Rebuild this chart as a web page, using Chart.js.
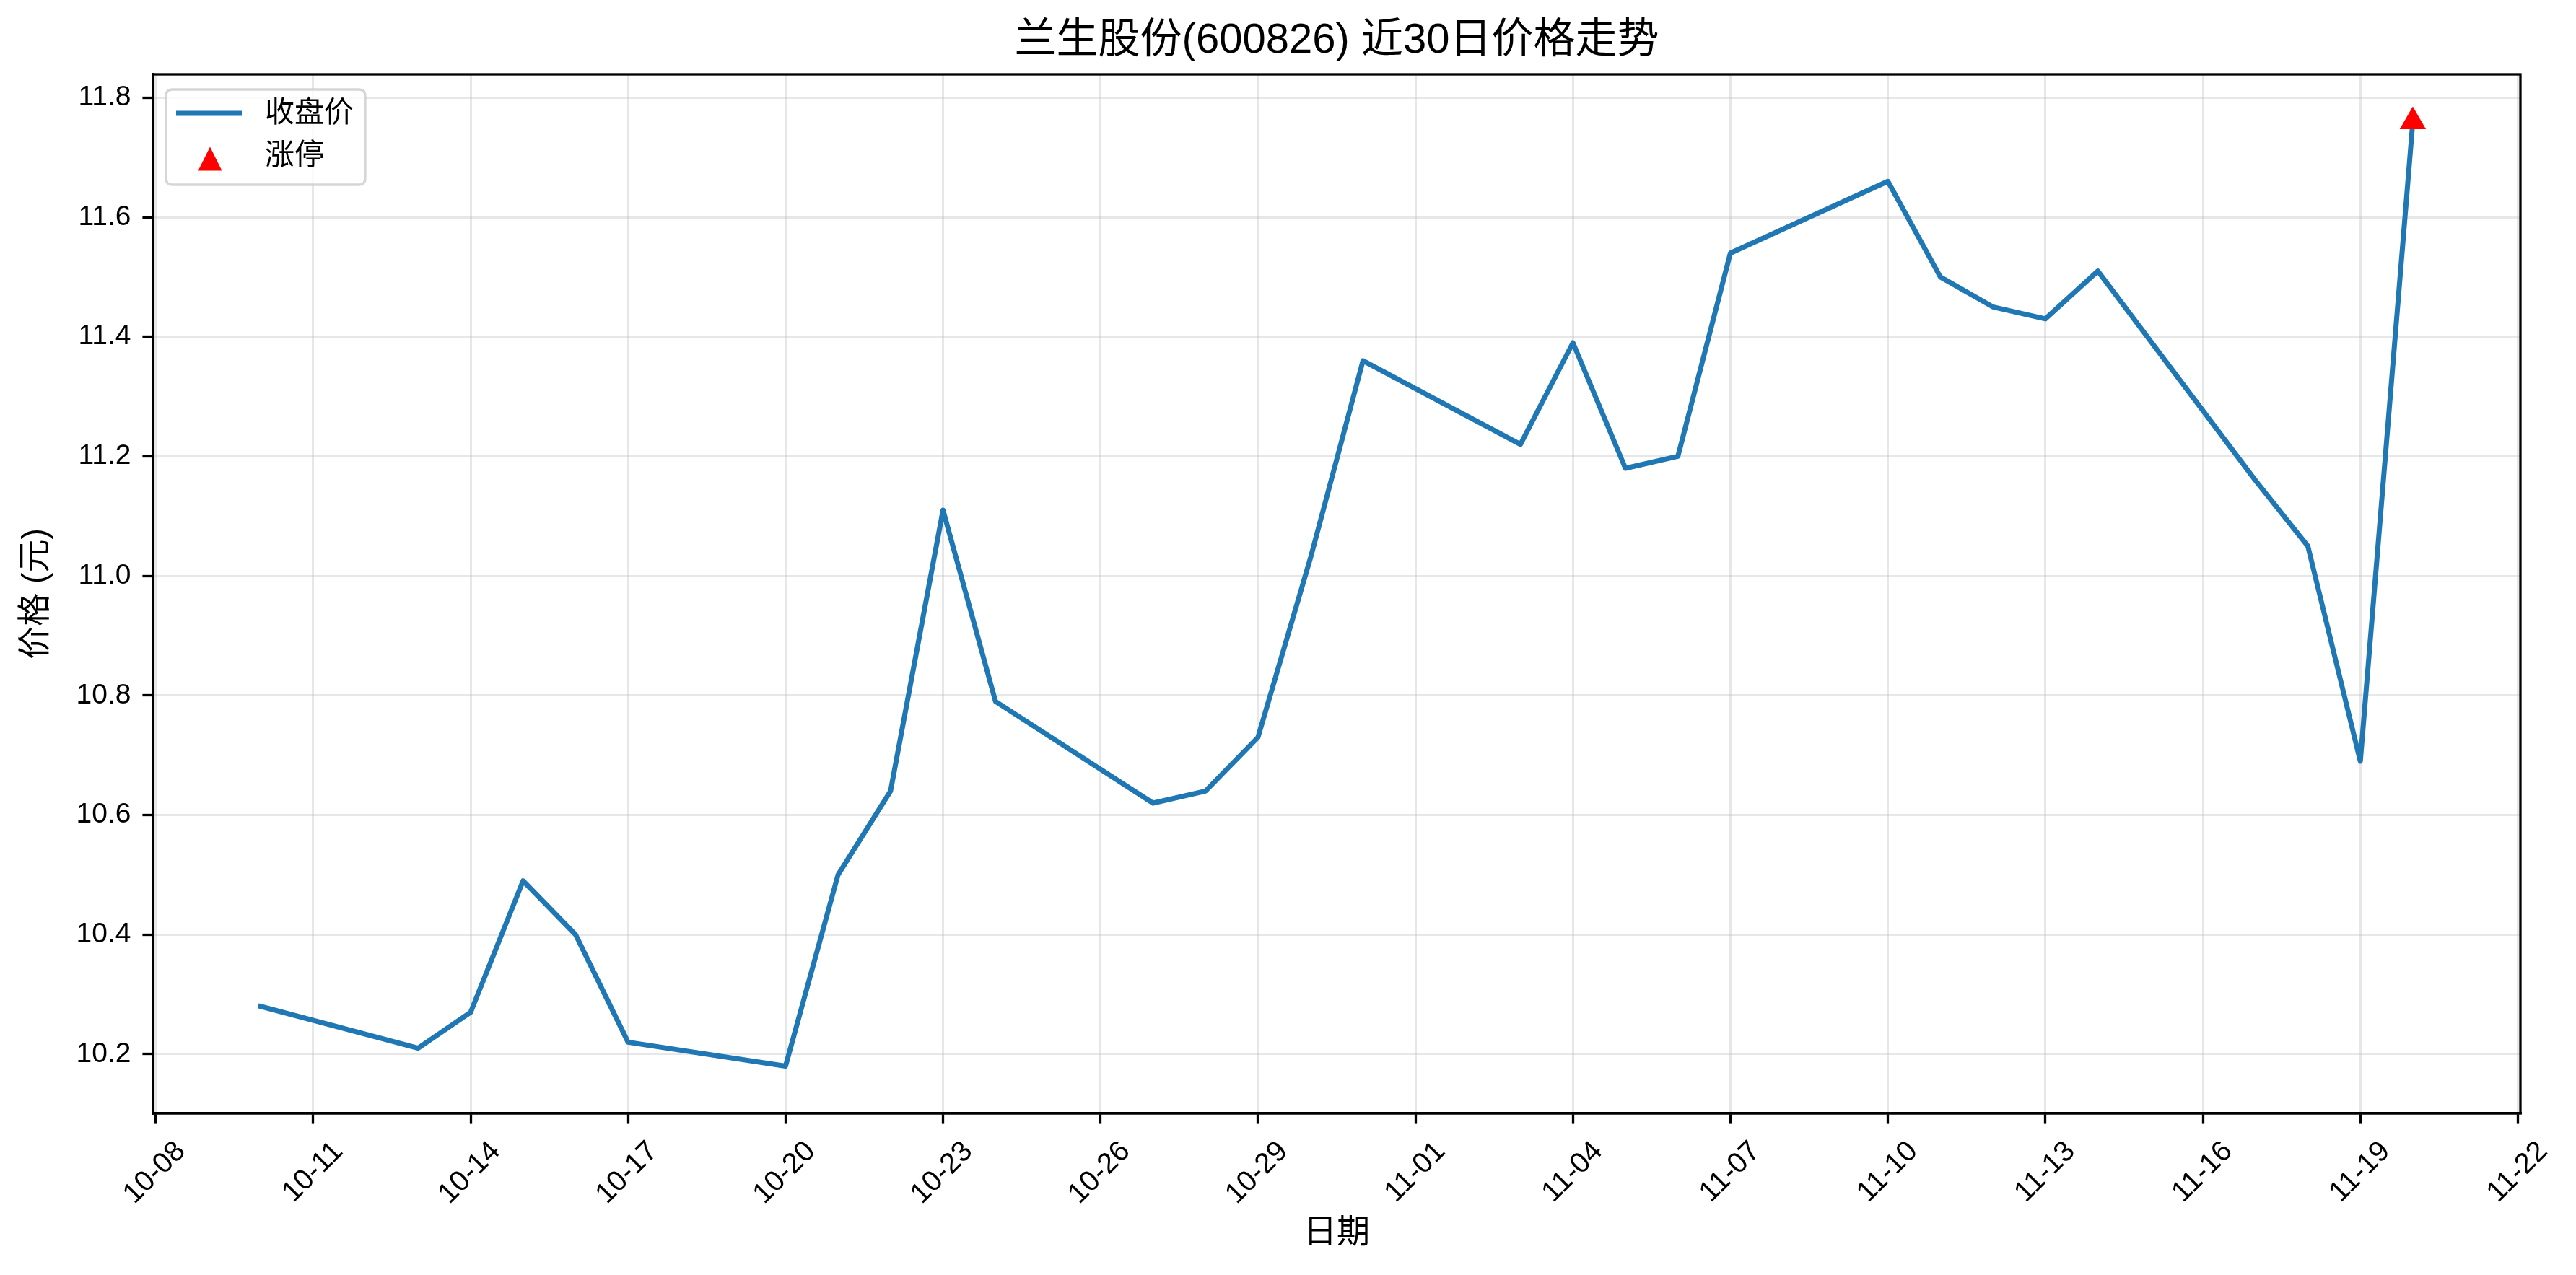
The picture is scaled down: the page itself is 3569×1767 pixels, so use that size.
<!DOCTYPE html>
<html>
<head>
<meta charset="utf-8">
<script src="https://cdn.jsdelivr.net/npm/chart.js@4/dist/chart.umd.min.js"></script>
<style>
  html, body { margin: 0; padding: 0; background: #fff; }
  #wrap { width: 3569px; height: 1767px; }
</style>
</head>
<body>
<div id="wrap"><canvas id="c" width="3569" height="1767"></canvas></div>
<script>
// ---- data ----
const YEAR = 2025;
const chartTitle = '兰生股份(600826) 近30日价格走势';
const xAxisTitle = '日期';
const yAxisTitle = '价格 (元)';
const closeLabel = '收盘价';
const limitLabel = '涨停';

const dates = ['10-10','10-13','10-14','10-15','10-16','10-17','10-20','10-21','10-22','10-23',
               '10-24','10-27','10-28','10-29','10-30','10-31','11-03','11-04','11-05','11-06',
               '11-07','11-10','11-11','11-12','11-13','11-14','11-17','11-18','11-19','11-20'];
const closes = [10.28,10.21,10.27,10.49,10.40,10.22,10.18,10.50,10.64,11.11,
                10.79,10.62,10.64,10.73,11.03,11.36,11.22,11.39,11.18,11.20,
                11.54,11.66,11.50,11.45,11.43,11.51,11.16,11.05,10.69,11.76];
const limitUpDates = ['11-20'];
const limitUpPrices = [11.76];

const xTickLabels = ['10-08','10-11','10-14','10-17','10-20','10-23','10-26','10-29',
                     '11-01','11-04','11-07','11-10','11-13','11-16','11-19','11-22'];
const yTickLabels = ['10.2','10.4','10.6','10.8','11.0','11.2','11.4','11.6','11.8'];

// ---- helpers ----
const BASE = Date.UTC(YEAR, 9, 8);
function dayNum(md) {
  const [m, d] = md.split('-').map(Number);
  return (Date.UTC(YEAR, m - 1, d) - BASE) / 86400000;
}
function fmtDay(v) {
  const dt = new Date(BASE + Math.round(v) * 86400000);
  const m = String(dt.getUTCMonth() + 1).padStart(2, '0');
  const d = String(dt.getUTCDate()).padStart(2, '0');
  return m + '-' + d;
}

const closePts = dates.map((d, i) => ({ x: dayNum(d), y: closes[i] }));
const limitPts = limitUpDates.map((d, i) => ({ x: dayNum(d), y: limitUpPrices[i] }));

const xs = closePts.map(p => p.x);
const ys = closePts.map(p => p.y).concat(limitUpPrices);
const xMinD = Math.min(...xs), xMaxD = Math.max(...xs);
const yMinD = Math.min(...ys), yMaxD = Math.max(...ys);
const xPad = (xMaxD - xMinD) * 0.05, yPad = (yMaxD - yMinD) * 0.05;

const FONT = '"Liberation Sans", Arial, "Noto Sans CJK SC", sans-serif';
const LINE_COLOR = '#1f77b4';
const SPINE_W = 3.3;

// ---- plugins ----
const frame = {
  id: 'frame',
  afterDatasetsDraw(chart) {
    const { ctx, chartArea: a } = chart;
    ctx.save();
    ctx.strokeStyle = '#000';
    ctx.lineWidth = SPINE_W;
    ctx.strokeRect(a.left, a.top, a.right - a.left, a.bottom - a.top);
    ctx.restore();
  }
};

function triPath(ctx, cx, cy, half) {
  ctx.beginPath();
  ctx.moveTo(cx, cy - half);
  ctx.lineTo(cx + half, cy + half);
  ctx.lineTo(cx - half, cy + half);
  ctx.closePath();
}

const mplLegend = {
  id: 'mplLegend',
  afterDraw(chart) {
    const { ctx, chartArea: a } = chart;
    const ds = chart.data.datasets;
    const x0 = a.left + 18, y0 = a.top + 21, w = 276, h = 132, r = 9;
    ctx.save();
    ctx.beginPath();
    ctx.moveTo(x0 + r, y0);
    ctx.lineTo(x0 + w - r, y0);
    ctx.quadraticCurveTo(x0 + w, y0, x0 + w, y0 + r);
    ctx.lineTo(x0 + w, y0 + h - r);
    ctx.quadraticCurveTo(x0 + w, y0 + h, x0 + w - r, y0 + h);
    ctx.lineTo(x0 + r, y0 + h);
    ctx.quadraticCurveTo(x0, y0 + h, x0, y0 + h - r);
    ctx.lineTo(x0, y0 + r);
    ctx.quadraticCurveTo(x0, y0, x0 + r, y0);
    ctx.closePath();
    ctx.fillStyle = 'rgba(255,255,255,0.8)';
    ctx.fill();
    ctx.strokeStyle = 'rgba(204,204,204,0.8)';
    ctx.lineWidth = 3.3;
    ctx.stroke();

    const rowY1 = y0 + 33, rowY2 = y0 + 96;
    ctx.strokeStyle = ds[0].borderColor;
    ctx.lineWidth = ds[0].borderWidth;
    ctx.lineCap = 'butt';
    ctx.beginPath();
    ctx.moveTo(x0 + 14, rowY1);
    ctx.lineTo(x0 + 105, rowY1);
    ctx.stroke();
    ctx.fillStyle = ds[1].backgroundColor;
    triPath(ctx, x0 + 61, rowY2, 16.5);
    ctx.fill();

    ctx.fillStyle = '#000';
    ctx.font = '41px ' + FONT;
    ctx.textAlign = 'left';
    ctx.textBaseline = 'middle';
    ctx.fillText(ds[0].label, x0 + 137, rowY1 + 1);
    ctx.fillText(ds[1].label, x0 + 137, rowY2 - 3);
    ctx.restore();
  }
};

Chart.defaults.color = '#000';
Chart.defaults.font.family = FONT;

new Chart(document.getElementById('c'), {
  type: 'line',
  data: {
    datasets: [
      {
        label: closeLabel,
        data: closePts,
        borderColor: LINE_COLOR,
        backgroundColor: LINE_COLOR,
        borderWidth: 7,
        pointRadius: 0,
        tension: 0,
        borderJoinStyle: 'round',
        borderCapStyle: 'square',
        fill: false,
        order: 1
      },
      {
        label: limitLabel,
        type: 'scatter',
        data: limitPts,
        pointStyle: 'triangle',
        pointRadius: 21,
        backgroundColor: '#ff0000',
        borderColor: '#ff0000',
        borderWidth: 0,
        showLine: false,
        order: 0
      }
    ]
  },
  options: {
    responsive: false,
    devicePixelRatio: 1,
    animation: false,
    layout: { padding: { left: 0, right: 77, top: 0, bottom: 0 } },
    plugins: {
      legend: { display: false },
      tooltip: { enabled: false },
      title: {
        display: true,
        fullSize: false,
        text: chartTitle,
        color: '#000',
        font: { family: FONT, size: 58, weight: 'normal', lineHeight: 1.2 },
        padding: { top: 22, bottom: 11.4 }
      }
    },
    scales: {
      x: {
        type: 'linear',
        min: xMinD - xPad,
        max: xMaxD + xPad,
        afterBuildTicks(scale) {
          scale.ticks = xTickLabels.map(l => ({ value: dayNum(l) }));
        },
        afterFit(scale) { scale.height = 224; },
        ticks: {
          autoSkip: false,
          minRotation: 45,
          maxRotation: 45,
          padding: 15,
          labelOffset: 35,
          font: { size: 40 },
          color: '#000',
          callback: v => fmtDay(v)
        },
        grid: {
          color: 'rgba(176,176,176,0.3)',
          lineWidth: 3,
          drawTicks: true,
          tickLength: 14.6,
          tickColor: '#000',
          tickWidth: SPINE_W
        },
        border: { display: true, color: '#000', width: SPINE_W },
        title: {
          display: true,
          text: xAxisTitle,
          color: '#000',
          font: { size: 46, lineHeight: 1.2 },
          padding: { top: 0, bottom: 30 }
        }
      },
      y: {
        type: 'linear',
        min: yMinD - yPad,
        max: yMaxD + yPad,
        afterBuildTicks(scale) {
          scale.ticks = yTickLabels.map(l => ({ value: parseFloat(l) }));
        },
        afterFit(scale) { scale.width = 212; },
        ticks: {
          padding: 16,
          font: { size: 39 },
          color: '#000',
          callback: v => v.toFixed(1)
        },
        grid: {
          color: 'rgba(176,176,176,0.3)',
          lineWidth: 3,
          drawTicks: true,
          tickLength: 14.6,
          tickColor: '#000',
          tickWidth: SPINE_W
        },
        border: { display: true, color: '#000', width: SPINE_W },
        title: {
          display: true,
          text: yAxisTitle,
          color: '#000',
          font: { size: 46, lineHeight: 1.2 },
          padding: { top: 23, bottom: 0 }
        }
      }
    }
  },
  plugins: [frame, mplLegend]
});
</script>
</body>
</html>
